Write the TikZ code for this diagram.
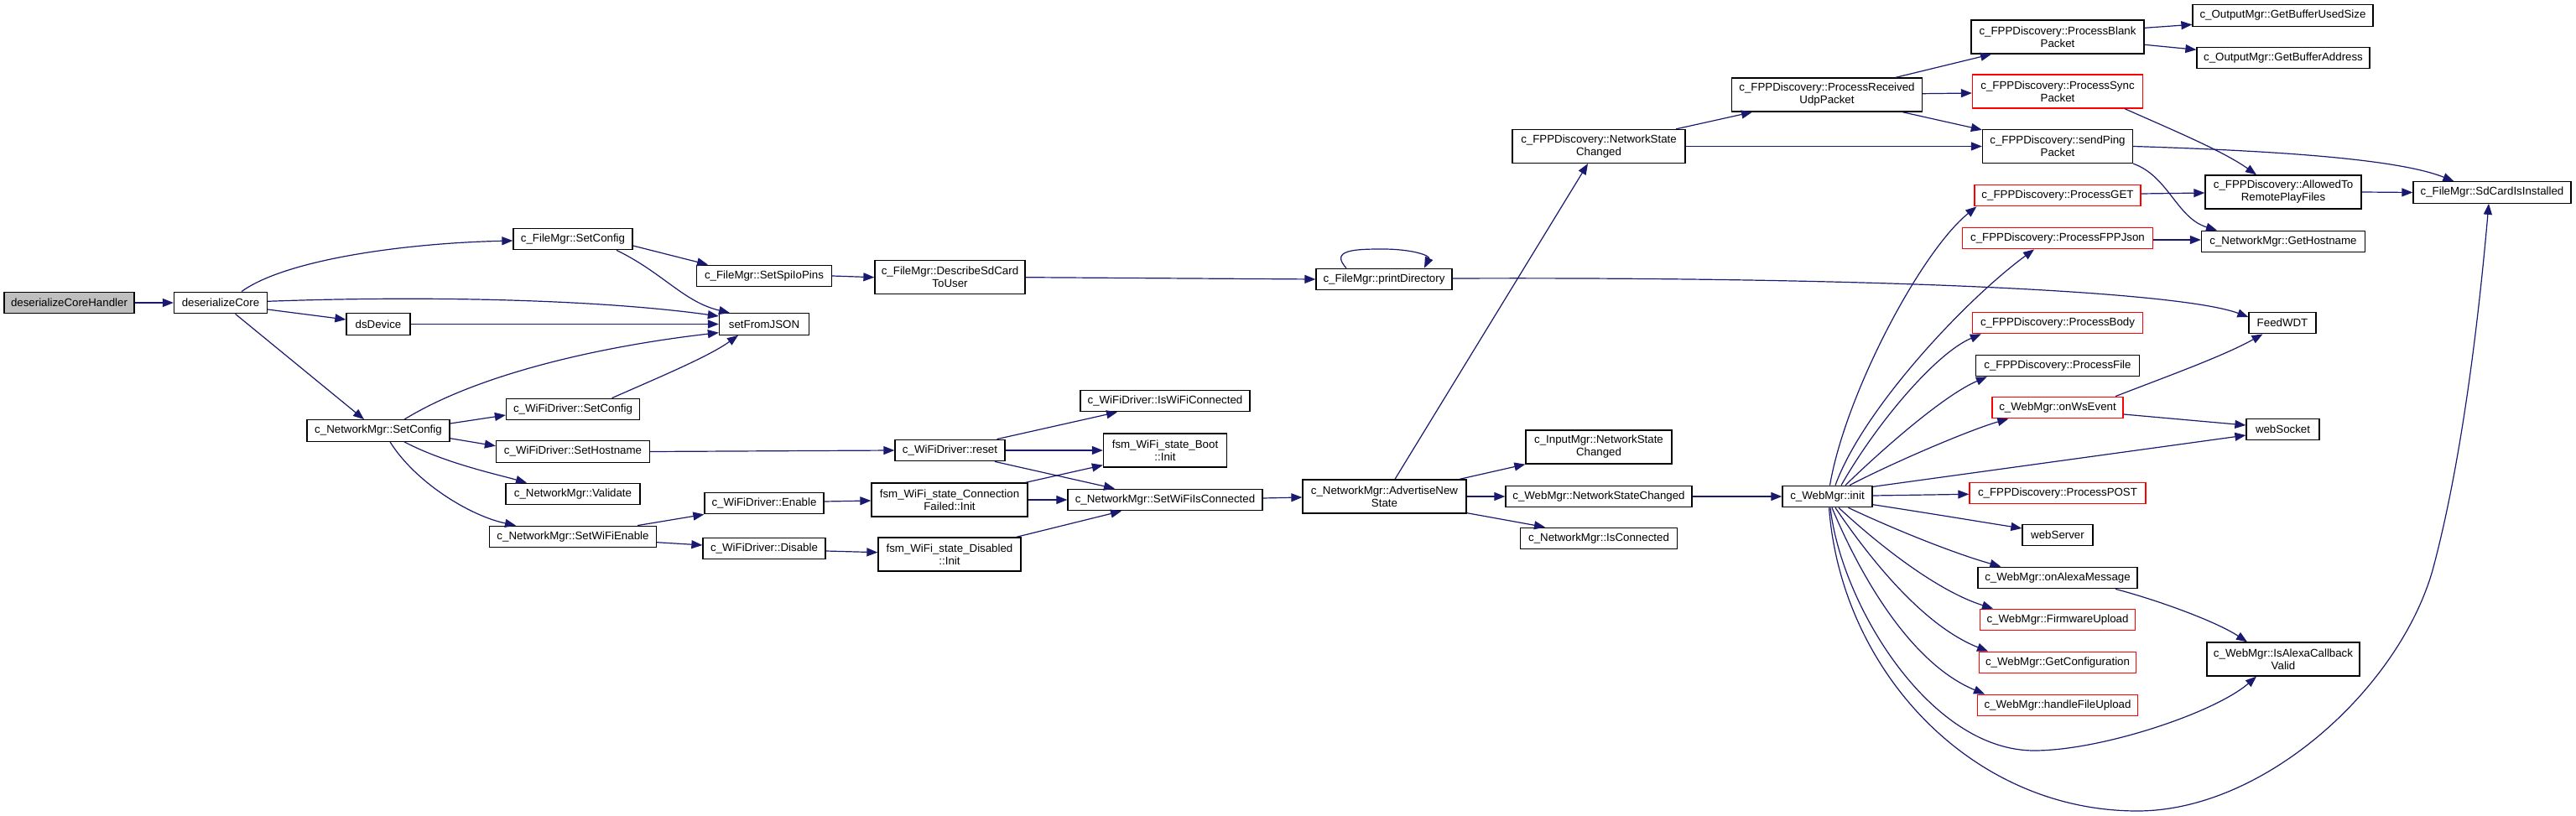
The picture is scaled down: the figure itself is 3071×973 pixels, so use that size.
\documentclass[tikz,border=0pt]{standalone}
\usepackage{fontspec}
\setmainfont{Liberation Sans}
\usetikzlibrary{arrows.meta}
\definecolor{edgecol}{HTML}{191970}
\definecolor{rootfill}{HTML}{BFBFBF}
\tikzset{
  fn/.style={draw=black, line width=1.3pt, rectangle, inner xsep=4pt, inner ysep=0pt,
    minimum height=25.5pt, font=\fontsize{13.3}{15}\selectfont, align=center, fill=white},
  fntwo/.style={fn, minimum height=40pt},
  trunc/.style={draw=red},
  rootn/.style={fill=rootfill},
  call/.style={draw=edgecol, line width=1.2pt, -{Triangle[length=13pt,width=10pt]}},
}
\begin{document}
\begin{tikzpicture}[x=1pt,y=-1pt]
\fill[white] (0,0) rectangle (3071,973);
\useasboundingbox (0,0) rectangle (3071,973);

% column 1-3
\node[fn, rootn, minimum width=155pt] (dch) at (82.5,361) {deserializeCoreHandler};
\node[fn, minimum width=111pt] (dc) at (263,361) {deserializeCore};
\node[fn, minimum width=76pt] (dsDevice) at (451,386.5) {dsDevice};
\node[fn, minimum width=170pt] (nmSetConfig) at (451,513.5) {c\_NetworkMgr::SetConfig};
% column 4
\node[fn, minimum width=142pt] (fmSetConfig) at (683,285) {c\_FileMgr::SetConfig};
\node[fn, minimum width=159pt] (wdSetConfig) at (683,488) {c\_WiFiDriver::SetConfig};
\node[fn, minimum width=183pt] (wdSetHostname) at (683,538.5) {c\_WiFiDriver::SetHostname};
\node[fn, minimum width=160pt] (nmValidate) at (683,589) {c\_NetworkMgr::Validate};
\node[fn, minimum width=199pt] (nmSetWiFiEnable) at (683,640) {c\_NetworkMgr::SetWiFiEnable};
% column 5
\node[fn, minimum width=161pt] (fmSetSpi) at (911,329) {c\_FileMgr::SetSpiIoPins};
\node[fn, minimum width=107pt] (setFromJSON) at (911,386.5) {setFromJSON};
\node[fn, minimum width=142pt] (wdEnable) at (911,600) {c\_WiFiDriver::Enable};
\node[fn, minimum width=146pt] (wdDisable) at (911,654) {c\_WiFiDriver::Disable};
% column 6
\node[fntwo, minimum width=179pt] (fmDescribe) at (1132.5,330.7) {c\_FileMgr::DescribeSdCard\\ToUser};
\node[fn, minimum width=131pt] (wdReset) at (1132.5,537) {c\_WiFiDriver::reset};
\node[fntwo, minimum width=186pt] (fsmConnFailed) at (1132,596) {fsm\_WiFi\_state\_Connection\\Failed::Init};
\node[fntwo, minimum width=170pt] (fsmDisabled) at (1132,661) {fsm\_WiFi\_state\_Disabled\\::Init};
% column 7
\node[fn, minimum width=202pt] (wdIsWiFiConnected) at (1389,478) {c\_WiFiDriver::IsWiFiConnected};
\node[fntwo, minimum width=147pt] (fsmBoot) at (1389,537) {fsm\_WiFi\_state\_Boot\\::Init};
\node[fn, minimum width=232pt] (nmSetWiFiIsConnected) at (1389,596) {c\_NetworkMgr::SetWiFiIsConnected};
% column 8
\node[fn, minimum width=162pt] (fmPrintDir) at (1650,333) {c\_FileMgr::printDirectory};
\node[fntwo, minimum width=195pt] (nmAdvertise) at (1650.5,592) {c\_NetworkMgr::AdvertiseNew\\State};
% column 9
\node[fntwo, minimum width=206pt] (fppNSC) at (1906,174.5) {c\_FPPDiscovery::NetworkState\\Changed};
\node[fntwo, minimum width=174pt] (imNSC) at (1906,533) {c\_InputMgr::NetworkState\\Changed};
\node[fn, minimum width=222pt] (wmNSC) at (1906,592) {c\_WebMgr::NetworkStateChanged};
\node[fn, minimum width=187pt] (nmIsConnected) at (1906,642) {c\_NetworkMgr::IsConnected};
% column 10
\node[fntwo, minimum width=227pt] (fppPRU) at (2178,113) {c\_FPPDiscovery::ProcessReceived\\UdpPacket};
\node[fn, minimum width=107pt] (wmInit) at (2178.5,592) {c\_WebMgr::init};
% column 11
\node[fntwo, minimum width=206pt] (fppBlank) at (2453,44) {c\_FPPDiscovery::ProcessBlank\\Packet};
\node[fntwo, trunc, minimum width=203pt] (fppSync) at (2453,109) {c\_FPPDiscovery::ProcessSync\\Packet};
\node[fntwo, minimum width=179pt] (fppPing) at (2453,174.5) {c\_FPPDiscovery::sendPing\\Packet};
\node[fn, trunc, minimum width=198pt] (fppGET) at (2453,233) {c\_FPPDiscovery::ProcessGET};
\node[fn, trunc, minimum width=227pt] (fppFPPJson) at (2453,284) {c\_FPPDiscovery::ProcessFPPJson};
\node[fn, trunc, minimum width=203pt] (fppBody) at (2453,385) {c\_FPPDiscovery::ProcessBody};
\node[fn, minimum width=195pt] (fppFile) at (2453,436) {c\_FPPDiscovery::ProcessFile};
\node[fn, trunc, minimum width=156pt] (wmOnWs) at (2453,486) {c\_WebMgr::onWsEvent};
\node[fn, trunc, minimum width=210pt] (fppPOST) at (2453,588) {c\_FPPDiscovery::ProcessPOST};
\node[fn, minimum width=84pt] (webServer) at (2453,638) {webServer};
\node[fn, minimum width=190pt] (wmAlexa) at (2453,689) {c\_WebMgr::onAlexaMessage};
\node[fn, trunc, minimum width=185pt] (wmFirmware) at (2453,739) {c\_WebMgr::FirmwareUpload};
\node[fn, trunc, minimum width=187pt] (wmGetConfig) at (2453,790) {c\_WebMgr::GetConfiguration};
\node[fn, trunc, minimum width=191pt] (wmHandleFile) at (2453,841) {c\_WebMgr::handleFileUpload};
% column 12
\node[fn, minimum width=215pt] (omUsed) at (2721.5,18.5) {c\_OutputMgr::GetBufferUsedSize};
\node[fn, minimum width=206pt] (omAddr) at (2722,69) {c\_OutputMgr::GetBufferAddress};
\node[fntwo, minimum width=186pt] (fppAllowed) at (2722,229) {c\_FPPDiscovery::AllowedTo\\RemotePlayFiles};
\node[fn, minimum width=195pt] (nmGetHostname) at (2722,288) {c\_NetworkMgr::GetHostname};
\node[fn, minimum width=80pt] (feedWDT) at (2721,385) {FeedWDT};
\node[fn, minimum width=87pt] (webSocket) at (2721.5,512) {webSocket};
\node[fntwo, minimum width=182pt] (wmAlexaValid) at (2722,786) {c\_WebMgr::IsAlexaCallback\\Valid};
% column 13
\node[fn, minimum width=188pt] (fmSdCard) at (2971,229.5) {c\_FileMgr::SdCardIsInstalled};

% ---------- edges ----------
\draw[call] (dch.east) -- (dc.west);
\draw[call] ([xshift=25pt]dc.north) .. controls (340,310) and (480,290) .. ([yshift=-2pt]fmSetConfig.west);
\draw[call] ([yshift=1.7pt]dc.east) .. controls (520,352) and (720,358) .. ([yshift=9.5pt]setFromJSON.west);
\draw[call] ([yshift=-8pt]dc.east) -- ([yshift=5.5pt]dsDevice.west);
\draw[call] ([xshift=17.6pt]dc.south) -- ([xshift=-17pt]nmSetConfig.north);
\draw[call] (dsDevice.east) -- (setFromJSON.west);
\draw[call] ([yshift=-8pt]fmSetConfig.east) -- ([xshift=-67pt]fmSetSpi.north);
\draw[call] ([xshift=52pt]fmSetConfig.south) .. controls (790,325) and (815,360) .. ([xshift=-41pt]setFromJSON.north);
\draw[call] ([xshift=31pt]nmSetConfig.north) .. controls (580,440) and (740,410) .. ([yshift=-10.2pt]setFromJSON.west);
\draw[call] ([xshift=46.6pt]wdSetConfig.north) .. controls (790,448) and (845,425) .. ([xshift=-31pt]setFromJSON.south);
\draw[call] ([yshift=8.5pt]nmSetConfig.east) -- ([yshift=-7pt]wdSetConfig.west);
\draw[call] ([yshift=-9.2pt]nmSetConfig.east) -- ([yshift=6.8pt]wdSetHostname.west);
\draw[call] ([xshift=31pt]nmSetConfig.south) .. controls (530,552) and (590,565) .. ([xshift=-55pt]nmValidate.north);
\draw[call] ([xshift=14pt]nmSetConfig.south) .. controls (495,575) and (560,615) .. ([xshift=-68pt]nmSetWiFiEnable.north);
\draw[call] (wdSetHostname.east) -- (wdReset.west);
\draw[call] ([xshift=77pt]nmSetWiFiEnable.north) -- (wdEnable.south west);
\draw[call] ([yshift=-6.7pt]nmSetWiFiEnable.east) -- ([yshift=4pt]wdDisable.west);
\draw[call] (fmSetSpi.east) -- (fmDescribe.west);
\draw[call] (fmDescribe.east) -- (fmPrintDir.west);
\draw[call] ([xshift=-45pt]fmPrintDir.north) .. controls (1585,298) and (1615,297) .. (1648,297)
   .. controls (1685,297) and (1705,305) .. ([xshift=48pt]fmPrintDir.north);
\draw[call] ([yshift=1pt]fmPrintDir.east) .. controls (2250,330) and (2600,348) .. ([yshift=7pt]feedWDT.west);
\draw[call] ([xshift=56pt]wdReset.north) -- ([xshift=-57pt]wdIsWiFiConnected.south);
\draw[call] (wdReset.east) -- (fsmBoot.west);
\draw[call] ([xshift=53.5pt]wdReset.south) -- ([xshift=-60pt]nmSetWiFiIsConnected.north);
\draw[call] ([yshift=2pt]wdEnable.east) -- ([yshift=-1pt]fsmConnFailed.west);
\draw[call] ([yshift=-3pt]wdDisable.east) -- ([yshift=2.3pt]fsmDisabled.west);
\draw[call] ([xshift=-3pt]fsmConnFailed.north east) -- ([yshift=3pt]fsmBoot.south west);
\draw[call] (fsmConnFailed.east) -- (nmSetWiFiIsConnected.west);
\draw[call] ([xshift=79.7pt]fsmDisabled.north) -- ([xshift=-52pt]nmSetWiFiIsConnected.south);
\draw[call] ([yshift=2pt]nmSetWiFiIsConnected.east) -- ([yshift=-1pt]nmAdvertise.west);
\draw[call] ([xshift=12.5pt]nmAdvertise.north) -- ([xshift=-13pt]fppNSC.south);
\draw[call] ([xshift=89.5pt]nmAdvertise.north) -- (imNSC.south west);
\draw[call] (nmAdvertise.east) -- (wmNSC.west);
\draw[call] ([yshift=1pt]nmAdvertise.south east) -- ([xshift=-64pt]nmIsConnected.north);
\draw[call] (wmNSC.east) -- (wmInit.west);
\draw[call] ([xshift=-11.6pt]fppNSC.north east) -- ([xshift=-89pt]fppPRU.south);
\draw[call] (fppNSC.east) -- (fppPing.west);
\draw[call] ([xshift=82pt]fppPRU.north) -- ([xshift=-79pt]fppBlank.south);
\draw[call] ([yshift=1.3pt]fppPRU.east) -- ([yshift=-2pt]fppSync.west);
\draw[call] ([xshift=90pt]fppPRU.south) -- ([yshift=-1pt]fppPing.north west);
\draw[call] ([yshift=10.7pt]fppBlank.east) -- ([yshift=-10.8pt]omUsed.west);
\draw[call] ([yshift=-9.3pt]fppBlank.east) -- ([yshift=9.7pt]omAddr.west);
\draw[call] ([xshift=80pt]fppSync.south) .. controls (2590,155) and (2650,180) .. ([xshift=-32pt]fppAllowed.north);
\draw[call] (fppPing.east) .. controls (2720,180) and (2860,190) .. ([xshift=-45.6pt]fmSdCard.north);
\draw[call] (fppPing.south east) .. controls (2585,210) and (2595,260) .. ([xshift=-79pt]nmGetHostname.north);
\draw[call] ([yshift=2pt]fppGET.east) -- ([yshift=-1pt]fppAllowed.west);
\draw[call] (fppAllowed.east) -- (fmSdCard.west);
\draw[call] ([yshift=-2pt]fppFPPJson.east) -- ([yshift=2pt]nmGetHostname.west);
\draw[call] ([xshift=69pt]wmOnWs.north) .. controls (2580,450) and (2650,425) .. ([xshift=-23.5pt]feedWDT.south);
\draw[call] ([yshift=-8pt]wmOnWs.east) -- ([yshift=5pt]webSocket.west);
\draw[call] ([yshift=-1.75pt]wmInit.north east) -- ([yshift=-7pt]webSocket.west);
\draw[call] ([yshift=1pt]wmInit.east) -- ([yshift=-1.3pt]fppPOST.west);
\draw[call] ([yshift=-9.7pt]wmInit.east) .. controls (2300,612) and (2360,622) .. ([yshift=8pt]webServer.west);
\draw[call] ([xshift=25pt]wmInit.south) .. controls (2260,632) and (2330,660) .. ([xshift=-67.6pt]wmAlexa.north);
\draw[call] ([xshift=13.5pt]wmInit.south) .. controls (2240,650) and (2310,705) .. ([xshift=-77pt]wmFirmware.north);
\draw[call] ([xshift=9.5pt]wmInit.south) .. controls (2225,660) and (2290,745) .. ([xshift=-83pt]wmGetConfig.north);
\draw[call] ([xshift=5.5pt]wmInit.south) .. controls (2215,680) and (2275,790) .. ([xshift=-87pt]wmHandleFile.north);
\draw[call] ([xshift=3.5pt]wmInit.south) .. controls (2195,720) and (2300,895) .. (2425,895)
   .. controls (2505,895) and (2640,850) .. ([xshift=-32pt]wmAlexaValid.south);
\draw[call] ([xshift=2pt]wmInit.south) .. controls (2195,800) and (2350,967) .. (2548,967)
   .. controls (2700,967) and (2860,820) .. (2900,680)
   .. controls (2935,550) and (2955,380) .. ([xshift=-4pt]fmSdCard.south);
\draw[call] ([xshift=3pt]wmInit.north) .. controls (2200,470) and (2290,300) .. ([xshift=3pt]fppGET.south west);
\draw[call] ([xshift=9.5pt]wmInit.north) .. controls (2220,490) and (2340,360) .. ([xshift=-28pt]fppFPPJson.south);
\draw[call] ([xshift=16.5pt]wmInit.north) .. controls (2240,500) and (2310,420) .. ([xshift=11pt]fppBody.south west);
\draw[call] ([xshift=21.5pt]wmInit.north) .. controls (2250,530) and (2320,470) .. ([xshift=14pt]fppFile.south west);
\draw[call] ([xshift=26.5pt]wmInit.north) .. controls (2260,550) and (2350,512) .. ([xshift=20pt]wmOnWs.south west);
\draw[call] ([xshift=69pt]wmAlexa.south) .. controls (2570,715) and (2640,740) .. ([xshift=-43pt]wmAlexaValid.north);
\end{tikzpicture}
\end{document}
